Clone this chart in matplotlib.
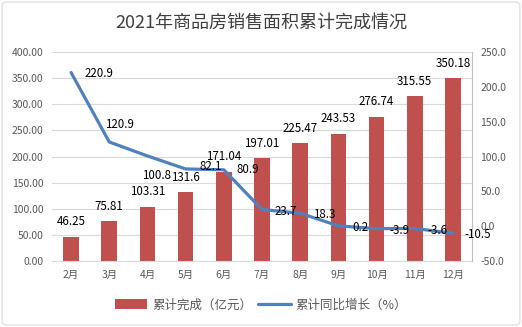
import matplotlib
matplotlib.use("Agg")
import matplotlib.pyplot as plt
from matplotlib.patches import FancyBboxPatch
import numpy as np

plt.rcParams['font.family'] = ['Noto Sans CJK SC', 'DejaVu Sans']

title = "2021年商品房销售面积累计完成情况"
months = ["2月", "3月", "4月", "5月", "6月", "7月", "8月", "9月", "10月", "11月", "12月"]
area = [46.25, 75.81, 103.31, 131.6, 171.04, 197.01, 225.47, 243.53, 276.74, 315.55, 350.18]
area_labels = ["46.25", "75.81", "103.31", "131.6", "171.04", "197.01", "225.47", "243.53", "276.74", "315.55", "350.18"]
growth = [220.9, 120.9, 100.8, 82.1, 80.9, 23.7, 18.3, 0.2, -3.9, -3.6, -10.5]
bar_name = "累计完成（亿元）"
line_name = "累计同比增长（%）"

# label offsets in pixels for line labels (dx, dy)
line_offsets = [(13, -1), (-4, 17), (-5, -20), (14, 2), (13, 0), (13, -2), (13, -1), (14, -2), (13, -2), (13, -2), (12, -1)]

BAR = "#C0504D"
LINE = "#4F81BD"
GRID = "#D9D9D9"
TICK = "#595959"

fig = plt.figure(figsize=(5.22, 3.27), dpi=100)
border = FancyBboxPatch((0.004, 0.006), 0.992, 0.988, boxstyle="round,pad=0,rounding_size=0.01",
                        transform=fig.transFigure, facecolor="none", edgecolor="#D9D9D9", lw=0.8, zorder=10)
fig.patches.append(border)
ax = fig.add_axes([0.0996, 0.2028, 0.8046, 0.6372])
ax.set_facecolor('none')
x = np.arange(len(months))
bars = ax.bar(x, area, width=0.41, color=BAR, zorder=2, label=bar_name)
ax.set_xlim(-0.5, len(months) - 0.5)
ax.set_ylim(0, 400)
ax.set_yticks(np.arange(0, 401, 50))
ax.set_yticklabels([f"{v:.2f}" for v in np.arange(0, 401, 50)])
ax.set_xticks(x)
ax.set_xticklabels(months)
ax.grid(axis='y', color=GRID, lw=0.8, zorder=0)
for s in ['top', 'right', 'left']:
    ax.spines[s].set_visible(False)
ax.spines['bottom'].set_color(GRID)
ax.tick_params(axis='both', length=0, colors=TICK, labelsize=7.5)
ax.tick_params(axis='x', pad=7)
ax.tick_params(axis='y', pad=6)

for xi, v, lab in zip(x, area, area_labels):
    ax.annotate(lab, (xi, v), xytext=(0, 15), textcoords='offset pixels',
                ha='center', va='center', fontsize=8.3, color='black', zorder=5)

ax2 = ax.twinx()
ax2.set_ylim(-50, 250)
ax2.set_yticks(np.arange(-50, 251, 50))
ax2.set_yticklabels([f"{v:.1f}" for v in np.arange(-50, 251, 50)])
ln, = ax2.plot(x, growth, color=LINE, lw=2.3, zorder=3, label=line_name, solid_capstyle='round')
for s in ['top', 'left', 'bottom']:
    ax2.spines[s].set_visible(False)
ax2.spines['right'].set_color("#BFBFBF")
ax2.tick_params(axis='y', length=0, colors=TICK, labelsize=7.5, pad=6)

for xi, v, (dx, dy) in zip(x, growth, line_offsets):
    ax2.annotate(f"{v:g}", (xi, v), xytext=(dx, dy), textcoords='offset pixels',
                 ha='left', va='center', fontsize=8.3, color='black', zorder=6)

fig.text(0.5, 0.932, title, ha='center', va='center', fontsize=13, color='#404040')

fig.legend([bars, ln], [bar_name, line_name], loc='center', bbox_to_anchor=(0.5, 0.067),
           ncol=2, frameon=False, fontsize=9, handlelength=2.6, handleheight=0.8,
           columnspacing=0.5, handletextpad=0.4, labelcolor=TICK)

fig.savefig("out.png", dpi=100)
